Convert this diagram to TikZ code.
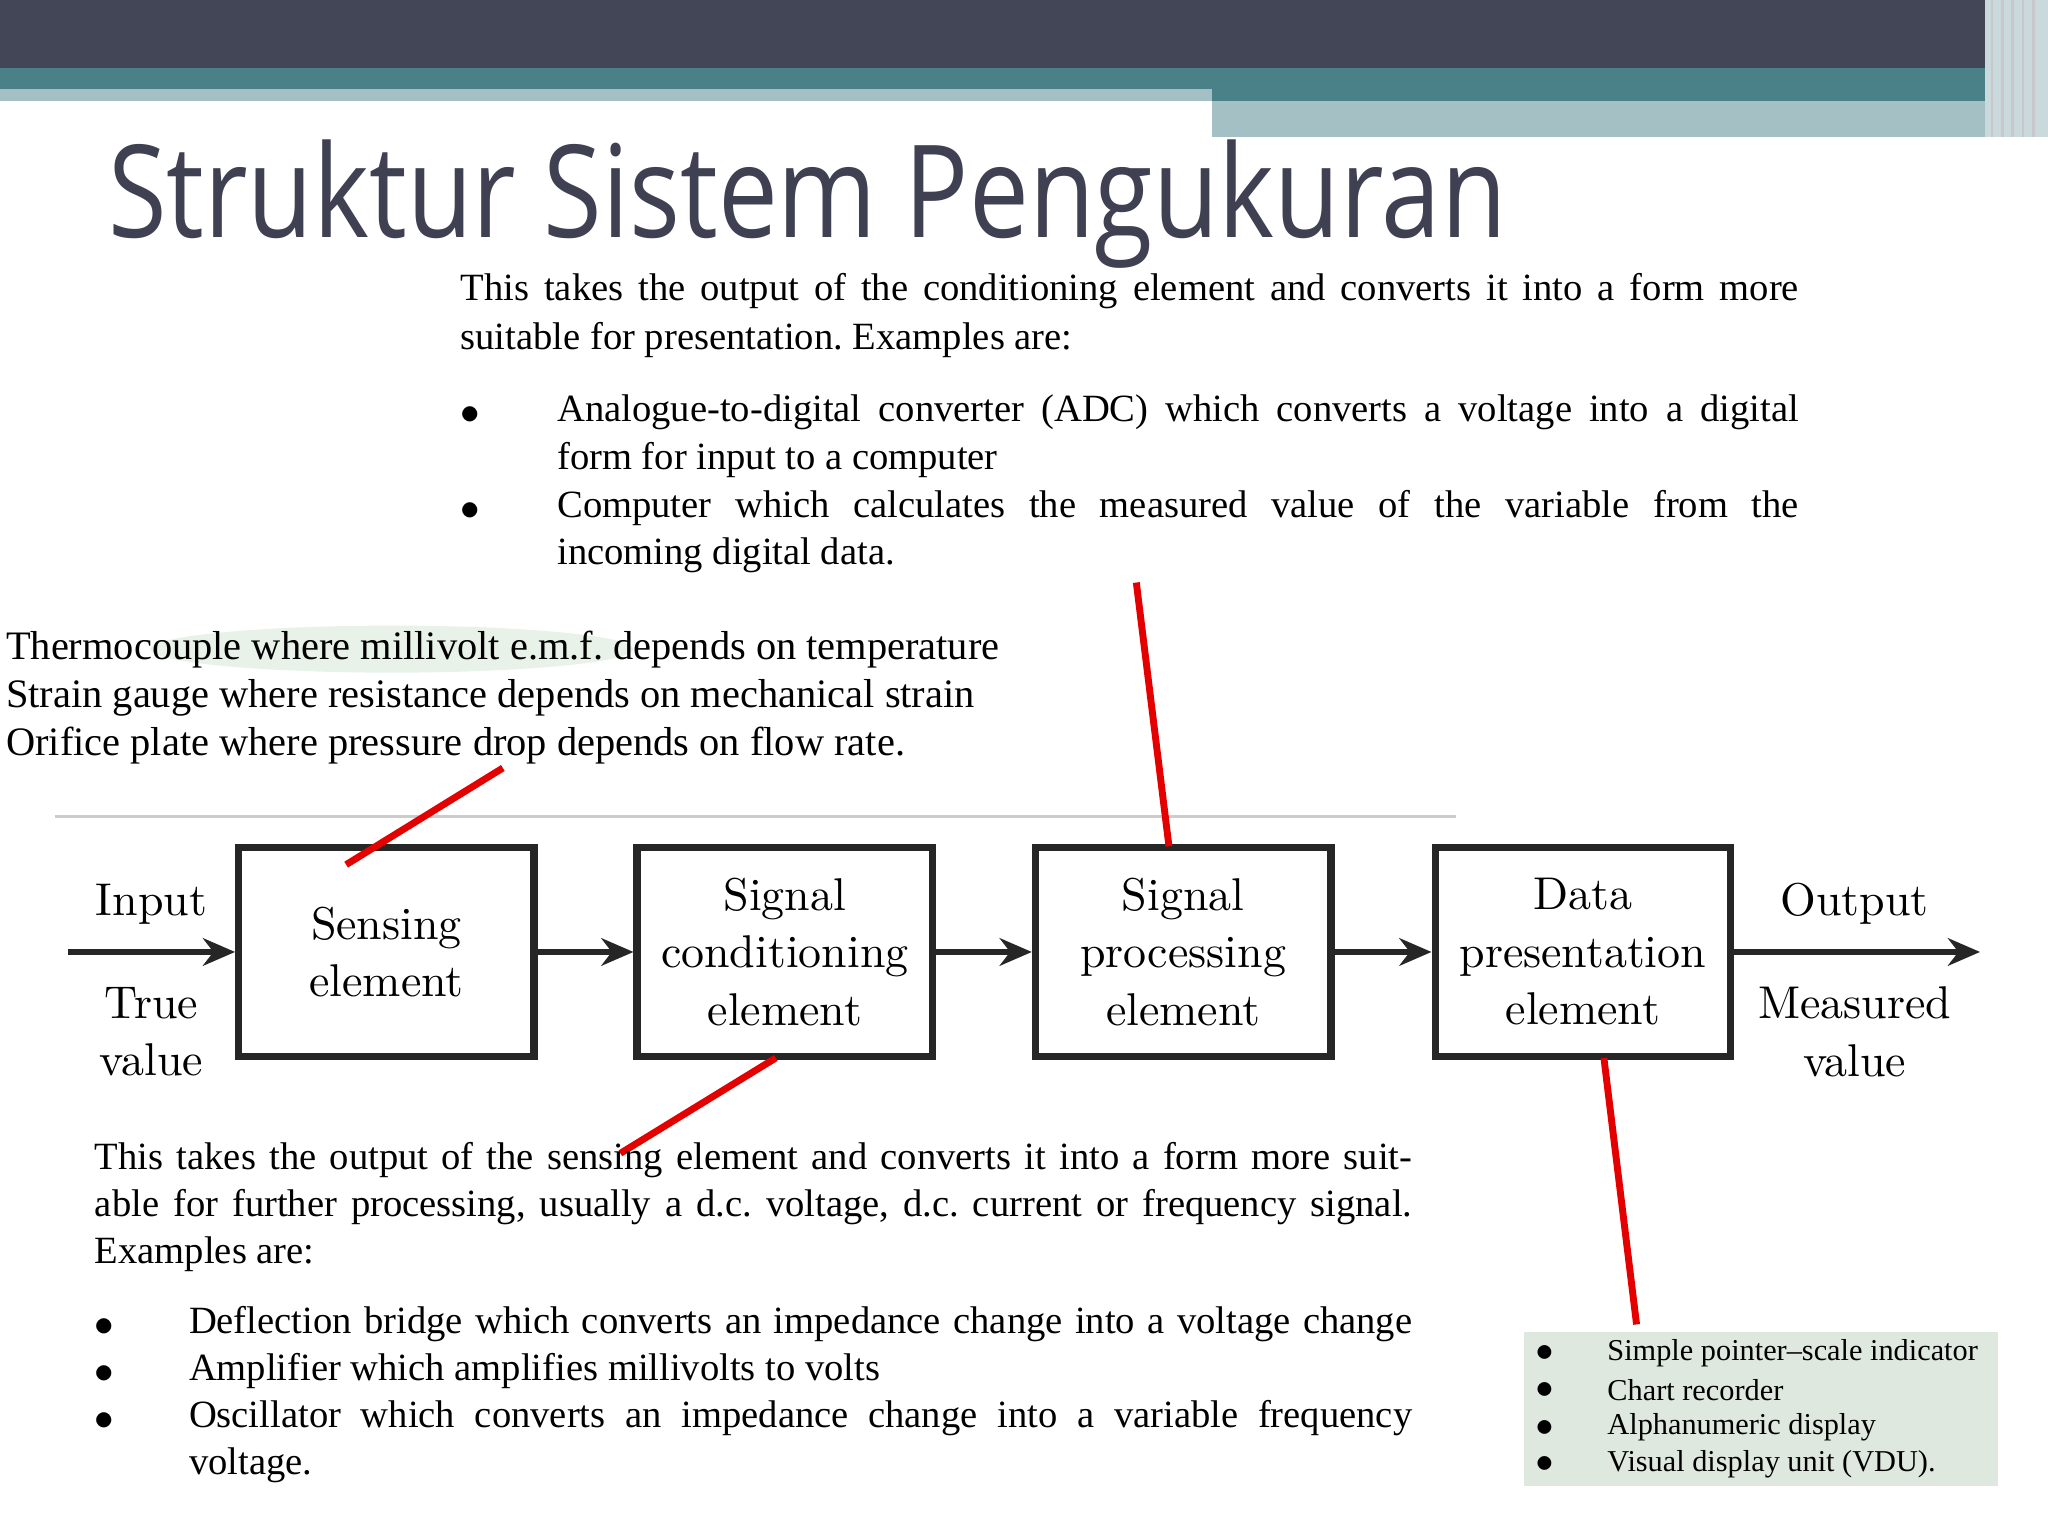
\documentclass[tikz,border=0pt]{standalone}
\usepackage{fontspec}
\setmainfont{Liberation Serif}
\newfontfamily\titlefont{Open Sans}
\newfontfamily\boxfont{Latin Modern Roman}
\usetikzlibrary{arrows.meta}
\definecolor{hdark}{HTML}{434656}
\definecolor{hteal}{HTML}{4A8088}
\definecolor{hlight}{HTML}{A5C0C4}
\definecolor{titlec}{HTML}{3F4152}
\definecolor{pale}{HTML}{DFE8DF}
\tikzset{
 blk/.style={draw=black!85,line width=1.6pt,minimum width=2.26cm,minimum height=1.6cm,anchor=north west,align=center,font=\boxfont\fontsize{10pt}{12.5pt}\selectfont},
 flow/.style={-{Stealth[length=7pt,width=6pt]},line width=1.4pt,black!85},
 redl/.style={red!90!black,line width=1.5pt},
 body/.style={anchor=west,inner sep=0pt,font=\fontsize{8.4pt}{10pt}\selectfont},
 lbody/.style={anchor=west,inner sep=0pt,font=\fontsize{8.8pt}{10pt}\selectfont},
 lbl/.style={font=\boxfont\fontsize{10pt}{12.5pt}\selectfont,align=center},
 small/.style={anchor=west,inner sep=0pt,font=\fontsize{6.6pt}{8pt}\selectfont}
}
\newcommand{\jl}[2]{\makebox[#1][s]{#2}}
\frenchspacing
\begin{document}
\begin{tikzpicture}[x=0.01cm,y=-0.01cm]
\useasboundingbox (0,0) rectangle (1568,1176);
% header
\fill[hdark] (0,0) rectangle (1568,52);
\fill[hteal] (0,52) rectangle (1520,68);
\fill[hlight] (0,68) rectangle (928,77);
\fill[hteal] (928,68) rectangle (1520,77);
\fill[hlight] (928,77) rectangle (1520,105);
\fill[hlight!60] (1520,0) rectangle (1568,105);
\foreach \x in {1524,1532,1540,1548,1556}{\fill[white!70!hdark] (\x,0) rectangle ++(2,105);}
\node[anchor=west,inner sep=0pt,text=titlec,font=\titlefont\fontsize{28pt}{32pt}\selectfont] (title) at (82,156) {\scalebox{0.83}[1]{Struktur Sistem Pengukuran}};
% top paragraph
\node[body] (t1) at (352,223) {\jl{10.24cm}{This takes the output of the conditioning element and converts it into a form more}};
\node[body] (t2) at (352,260) {suitable for presentation. Examples are:};
\node[body] (tb1) at (352,318) {$\bullet$};
\node[body] (t3) at (426,316) {\jl{9.5cm}{Analogue-to-digital converter (ADC) which converts a voltage into a digital}};
\node[body] (t4) at (426,352) {form for input to a computer};
\node[body] (tb2) at (352,391) {$\bullet$};
\node[body] (t5) at (426,389) {\jl{9.5cm}{Computer which calculates the measured value of the variable from the}};
\node[body] (t6) at (426,425) {incoming digital data.};
% left list
\fill[green!25!gray!20,opacity=0.7] (300,497) ellipse (185 and 18);
\node[lbody] (l1) at (4,497) {Thermocouple where millivolt e.m.f. depends on temperature};
\node[lbody] (l2) at (4,534) {Strain gauge where resistance depends on mechanical strain};
\node[lbody] (l3) at (4,571) {Orifice plate where pressure drop depends on flow rate.};
\draw[gray!40,line width=0.6pt] (42,625) -- (1115,625);
% blocks
\node[blk] (b1) at (180,646) {Sensing\\element};
\node[blk] (b2) at (485,646) {Signal\\conditioning\\element};
\node[blk] (b3) at (790,646) {Signal\\processing\\element};
\node[blk] (b4) at (1096,646) {Data\\presentation\\element};
\coordinate (in) at (52,0 |- b1.west);
\coordinate (out) at (1516,0 |- b4.east);
\draw[flow] (in) -- (b1.west);
\draw[flow] (b1.east) -- (b2.west);
\draw[flow] (b2.east) -- (b3.west);
\draw[flow] (b3.east) -- (b4.west);
\draw[flow] (b4.east) -- (out);
\node[lbl] (inl) at (116,692) {Input};
\node[lbl] (tv) at (116,790) {True\\value};
\node[lbl] (outl) at (1420,692) {Output};
\node[lbl] (mv) at (1420,790) {Measured\\value};
% red lines
\coordinate (r1) at (385,588); \coordinate (r1b) at (265,662);
\coordinate (r2) at (475,883); \coordinate (r2b) at (594,810);
\coordinate (r3) at (870,446); \coordinate (r3b) at (895,648);
\coordinate (r4) at (1228,810); \coordinate (r4b) at (1253,1014);
\draw[redl] (r1) -- (r1b);
\draw[redl] (r2b) -- (r2);
\draw[redl] (r3) -- (r3b);
\draw[redl] (r4) -- (r4b);
% bottom paragraph
\node[body] (p1) at (72,888) {\jl{10.08cm}{This takes the output of the sensing element and converts it into a form more suit-}};
\node[body] (p2) at (72,924) {\jl{10.08cm}{able for further processing, usually a d.c. voltage, d.c. current or frequency signal.}};
\node[body] (p3) at (72,960) {Examples are:};
\node[body] (pb1) at (72,1016) {$\bullet$};
\node[body] (p4) at (144,1014) {\jl{9.36cm}{Deflection bridge which converts an impedance change into a voltage change}};
\node[body] (pb2) at (72,1052) {$\bullet$};
\node[body] (p5) at (144,1050) {Amplifier which amplifies millivolts to volts};
\node[body] (pb3) at (72,1088) {$\bullet$};
\node[body] (p6) at (144,1086) {\jl{9.36cm}{Oscillator which converts an impedance change into a variable frequency}};
\node[body] (p7) at (144,1122) {voltage.};
% bottom right
\fill[pale] (1167,1020) rectangle (1530,1138);
\foreach \y/\t [count=\i] in {1036/Simple pointer--scale indicator,1064/Chart recorder,1093/Alphanumeric display,1121/Visual display unit (VDU).}{
 \node[small] (sb\i) at (1175,\y) {$\bullet$};
 \node[small] (s\i) at (1230,\y) {\t};
}
\end{tikzpicture}
\end{document}
